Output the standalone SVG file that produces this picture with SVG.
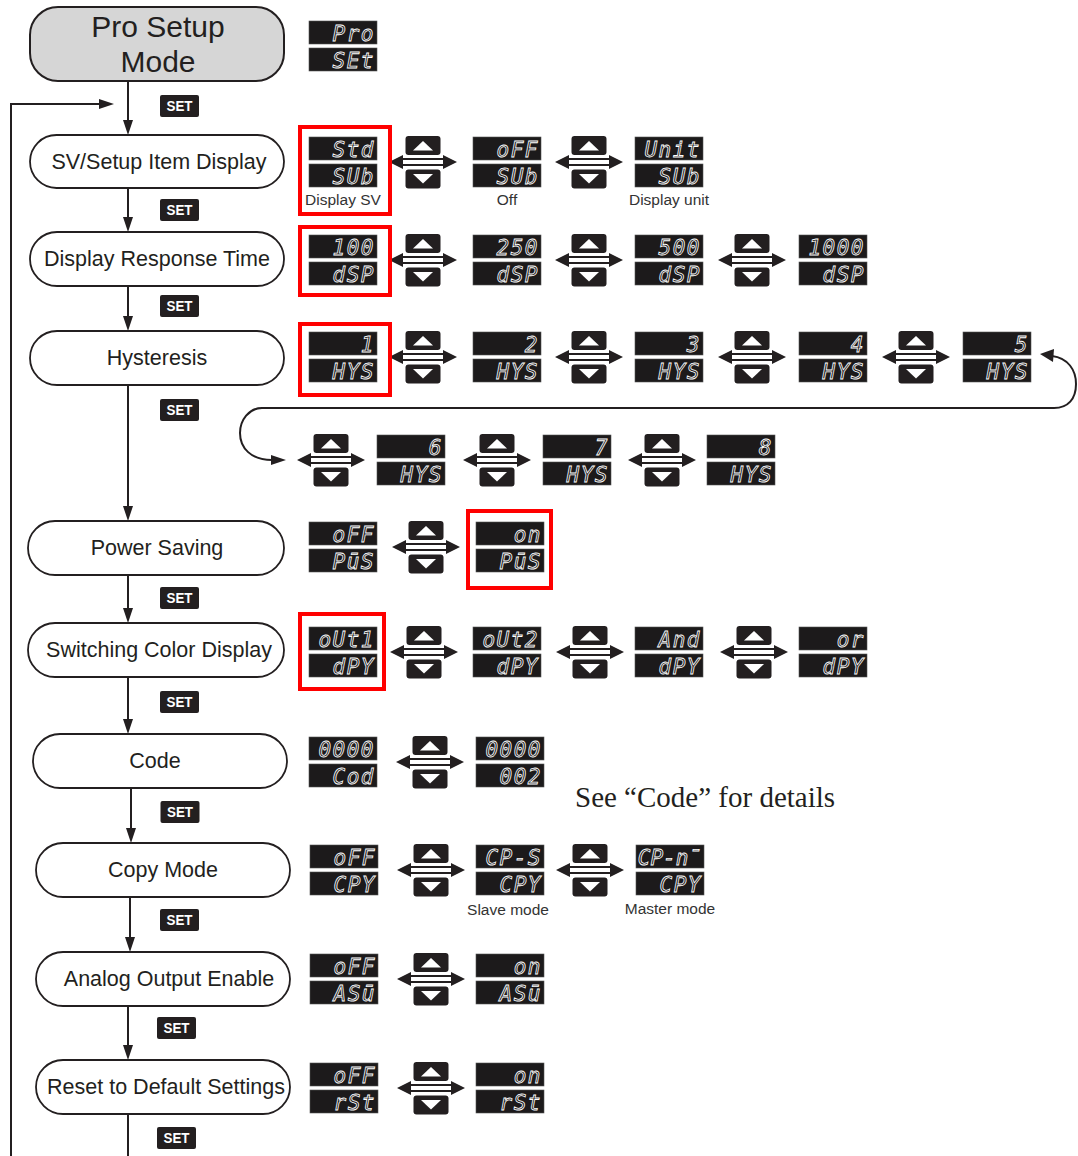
<svg xmlns="http://www.w3.org/2000/svg" xmlns:xlink="http://www.w3.org/1999/xlink" width="1078" height="1156" viewBox="0 0 1078 1156">
<style>
.node{fill:#fff;stroke:#231f20;stroke-width:1.8}
.pro{fill:#d6d6d6;stroke:#231f20;stroke-width:2}
.nt{font-family:"Liberation Sans",Arial,sans-serif;font-size:21.5px;fill:#231f20;text-anchor:middle}
.pt{font-family:"Liberation Sans",Arial,sans-serif;font-size:30px;fill:#231f20;text-anchor:middle}
.lcd rect{fill:#1c1a1b;stroke:#555;stroke-width:0.6}
.lcd text{font-family:"DejaVu Sans Mono","Liberation Mono",monospace;font-style:italic;font-size:21px;fill:none;stroke:#fff;stroke-width:0.8;text-anchor:end;letter-spacing:1.5px}
.lcd text.tight{letter-spacing:0px}
.cap{font-family:"Liberation Sans",Arial,sans-serif;font-size:15.5px;fill:#333;text-anchor:middle}
.red{fill:none;stroke:#f00;stroke-width:4}
.ln{fill:none;stroke:#231f20;stroke-width:2}
.ah{fill:#231f20}
.set rect{fill:#231f20}
.set text{font-family:"Liberation Sans",Arial,sans-serif;font-weight:bold;font-size:14px;fill:#fff;text-anchor:middle}
.note{font-family:"Liberation Serif","Times New Roman",serif;font-size:29px;fill:#231f20}
</style>
<defs>
<g id="ud">
<rect x="-17.5" y="-26" width="35" height="19" rx="3" fill="#231f20"/>
<rect x="-17.5" y="7.5" width="35" height="19" rx="3" fill="#231f20"/>
<polygon points="-10,-11.5 10,-11.5 0,-21" fill="#fff"/>
<polygon points="-10,12 10,12 0,21.5" fill="#fff"/>
<line x1="-22" y1="-3" x2="22" y2="-3" stroke="#231f20" stroke-width="2"/>
<line x1="-22" y1="3" x2="22" y2="3" stroke="#231f20" stroke-width="2"/>
<polygon points="-34,0 -20,-7 -20,7" fill="#231f20"/>
<polygon points="34,0 20,-7 20,7" fill="#231f20"/>
</g>
<g id="setb" class="set">
<rect x="-19.5" y="-11" width="39" height="22" rx="2"/>
<text x="0" y="5" textLength="26" lengthAdjust="spacingAndGlyphs">SET</text>
</g>
</defs>
<rect width="1078" height="1156" fill="#fff"/>

<g id="connectors">
<polyline class="ln" points="11,1156 11,104 100,104"/>
<polygon class="ah" points="114,104 99,99 99,109"/>
<line class="ln" x1="128" y1="81" x2="128" y2="122"/>
<polygon class="ah" points="128,135 123,120 133,120"/>
<line class="ln" x1="128" y1="188" x2="128" y2="219"/>
<polygon class="ah" points="128,232 123,217 133,217"/>
<line class="ln" x1="128" y1="286" x2="128" y2="318"/>
<polygon class="ah" points="128,331 123,316 133,316"/>
<line class="ln" x1="128" y1="385" x2="128" y2="508"/>
<polygon class="ah" points="128,521 123,506 133,506"/>
<line class="ln" x1="128" y1="575" x2="128" y2="610"/>
<polygon class="ah" points="128,623 123,608 133,608"/>
<line class="ln" x1="128" y1="677" x2="128" y2="721"/>
<polygon class="ah" points="128,734 123,719 133,719"/>
<line class="ln" x1="131" y1="788" x2="131" y2="830"/>
<polygon class="ah" points="131,843 126,828 136,828"/>
<line class="ln" x1="130" y1="897" x2="130" y2="939"/>
<polygon class="ah" points="130,952 125,937 135,937"/>
<line class="ln" x1="128" y1="1006" x2="128" y2="1047"/>
<polygon class="ah" points="128,1060 123,1045 133,1045"/>
<line class="ln" x1="128" y1="1114" x2="128" y2="1156"/>
<path class="ln" d="M1052,356 C1068,358 1076,370 1076,384 C1076,399 1068,408 1054,408 L262,408 C249,408 240,420 240,433 C240,448 251,460 272,460"/>
<polygon class="ah" points="1040,354 1054,349 1053,362"/>
<polygon class="ah" points="286,460 271,455 271,465"/>
</g>

<g id="set-badges">
<use xlink:href="#setb" x="179.5" y="106"/>
<use xlink:href="#setb" x="179.5" y="210"/>
<use xlink:href="#setb" x="179.5" y="306"/>
<use xlink:href="#setb" x="179.5" y="410"/>
<use xlink:href="#setb" x="179.5" y="598"/>
<use xlink:href="#setb" x="179.5" y="702"/>
<use xlink:href="#setb" x="180" y="812"/>
<use xlink:href="#setb" x="179.5" y="920"/>
<use xlink:href="#setb" x="176.5" y="1028"/>
<use xlink:href="#setb" x="176.5" y="1138"/>
</g>

<g id="node-pro">
<rect class="pro" x="30" y="7" width="254" height="74" rx="28"/>
<text class="pt" x="158" y="37">Pro Setup</text>
<text class="pt" x="158" y="72">Mode</text>
</g>
<g id="node-sv"><rect class="node" x="30" y="135" width="254" height="53" rx="26.5"/><text class="nt" x="159" y="169">SV/Setup Item Display</text></g>
<g id="node-drt"><rect class="node" x="30" y="232" width="254" height="54" rx="27"/><text class="nt" x="157" y="266">Display Response Time</text></g>
<g id="node-hys"><rect class="node" x="30" y="331" width="254" height="54" rx="27"/><text class="nt" x="157" y="365">Hysteresis</text></g>
<g id="node-pws"><rect class="node" x="28" y="521" width="256" height="54" rx="27"/><text class="nt" x="157" y="555">Power Saving</text></g>
<g id="node-scd"><rect class="node" x="28" y="623" width="256" height="54" rx="27"/><text class="nt" x="159" y="657">Switching Color Display</text></g>
<g id="node-code"><rect class="node" x="33" y="734" width="254" height="54" rx="27"/><text class="nt" x="155" y="768">Code</text></g>
<g id="node-copy"><rect class="node" x="36" y="843" width="254" height="54" rx="27"/><text class="nt" x="163" y="877">Copy Mode</text></g>
<g id="node-aoe"><rect class="node" x="36" y="952" width="254" height="54" rx="27"/><text class="nt" x="169" y="986">Analog Output Enable</text></g>
<g id="node-rst"><rect class="node" x="36" y="1060" width="254" height="54" rx="27"/><text class="nt" x="166" y="1094">Reset to Default Settings</text></g>

<g id="displays">
<g class="lcd" transform="translate(309,46)"><rect y="-25" width="68" height="23"/><rect y="2" width="68" height="23"/><text x="66" y="-5.5">Pro</text><text x="66" y="21.5">SEt</text></g>

<g class="lcd" transform="translate(309,162)"><rect y="-25" width="68" height="23"/><rect y="2" width="68" height="23"/><text x="66" y="-5.5">Std</text><text x="66" y="21.5">SUb</text></g>
<g class="lcd" transform="translate(473,162)"><rect y="-25" width="68" height="23"/><rect y="2" width="68" height="23"/><text x="66" y="-5.5">oFF</text><text x="66" y="21.5">SUb</text></g>
<g class="lcd" transform="translate(635,162)"><rect y="-25" width="68" height="23"/><rect y="2" width="68" height="23"/><text x="66" y="-5.5">Unit</text><text x="66" y="21.5">SUb</text></g>
<use xlink:href="#ud" x="423" y="162"/><use xlink:href="#ud" x="589" y="162"/>
<rect class="red" x="300" y="127" width="90" height="87"/>
<text class="cap" x="343" y="205">Display SV</text>
<text class="cap" x="507" y="205">Off</text>
<text class="cap" x="669" y="205">Display unit</text>

<g class="lcd" transform="translate(309,260)"><rect y="-25" width="68" height="23"/><rect y="2" width="68" height="23"/><text x="66" y="-5.5">100</text><text x="66" y="21.5">dSP</text></g>
<g class="lcd" transform="translate(473,260)"><rect y="-25" width="68" height="23"/><rect y="2" width="68" height="23"/><text x="66" y="-5.5">250</text><text x="66" y="21.5">dSP</text></g>
<g class="lcd" transform="translate(635,260)"><rect y="-25" width="68" height="23"/><rect y="2" width="68" height="23"/><text x="66" y="-5.5">500</text><text x="66" y="21.5">dSP</text></g>
<g class="lcd" transform="translate(799,260)"><rect y="-25" width="68" height="23"/><rect y="2" width="68" height="23"/><text x="66" y="-5.5">1000</text><text x="66" y="21.5">dSP</text></g>
<use xlink:href="#ud" x="423" y="260"/><use xlink:href="#ud" x="589" y="260"/><use xlink:href="#ud" x="752" y="260"/>
<rect class="red" x="300" y="227" width="90" height="68"/>

<g class="lcd" transform="translate(309,357)"><rect y="-25" width="68" height="23"/><rect y="2" width="68" height="23"/><text x="66" y="-5.5">1</text><text x="66" y="21.5">HYS</text></g>
<g class="lcd" transform="translate(473,357)"><rect y="-25" width="68" height="23"/><rect y="2" width="68" height="23"/><text x="66" y="-5.5">2</text><text x="66" y="21.5">HYS</text></g>
<g class="lcd" transform="translate(635,357)"><rect y="-25" width="68" height="23"/><rect y="2" width="68" height="23"/><text x="66" y="-5.5">3</text><text x="66" y="21.5">HYS</text></g>
<g class="lcd" transform="translate(799,357)"><rect y="-25" width="68" height="23"/><rect y="2" width="68" height="23"/><text x="66" y="-5.5">4</text><text x="66" y="21.5">HYS</text></g>
<g class="lcd" transform="translate(963,357)"><rect y="-25" width="68" height="23"/><rect y="2" width="68" height="23"/><text x="66" y="-5.5">5</text><text x="66" y="21.5">HYS</text></g>
<use xlink:href="#ud" x="423" y="357"/><use xlink:href="#ud" x="589" y="357"/><use xlink:href="#ud" x="752" y="357"/><use xlink:href="#ud" x="916" y="357"/>
<rect class="red" x="300" y="324" width="90" height="71"/>

<g class="lcd" transform="translate(377,460)"><rect y="-25" width="68" height="23"/><rect y="2" width="68" height="23"/><text x="66" y="-5.5">6</text><text x="66" y="21.5">HYS</text></g>
<g class="lcd" transform="translate(543,460)"><rect y="-25" width="68" height="23"/><rect y="2" width="68" height="23"/><text x="66" y="-5.5">7</text><text x="66" y="21.5">HYS</text></g>
<g class="lcd" transform="translate(707,460)"><rect y="-25" width="68" height="23"/><rect y="2" width="68" height="23"/><text x="66" y="-5.5">8</text><text x="66" y="21.5">HYS</text></g>
<use xlink:href="#ud" x="331" y="460"/><use xlink:href="#ud" x="497" y="460"/><use xlink:href="#ud" x="662" y="460"/>

<g class="lcd" transform="translate(309,547)"><rect y="-25" width="68" height="23"/><rect y="2" width="68" height="23"/><text x="66" y="-5.5">oFF</text><text x="66" y="21.5">PūS</text></g>
<g class="lcd" transform="translate(476,547)"><rect y="-25" width="68" height="23"/><rect y="2" width="68" height="23"/><text x="66" y="-5.5">on</text><text x="66" y="21.5">PūS</text></g>
<use xlink:href="#ud" x="426" y="547"/>
<rect class="red" x="468" y="511" width="83" height="77"/>

<g class="lcd" transform="translate(309,652)"><rect y="-25" width="68" height="23"/><rect y="2" width="68" height="23"/><text x="66" y="-5.5">oUt1</text><text x="66" y="21.5">dPY</text></g>
<g class="lcd" transform="translate(473,652)"><rect y="-25" width="68" height="23"/><rect y="2" width="68" height="23"/><text x="66" y="-5.5">oUt2</text><text x="66" y="21.5">dPY</text></g>
<g class="lcd" transform="translate(635,652)"><rect y="-25" width="68" height="23"/><rect y="2" width="68" height="23"/><text x="66" y="-5.5">And</text><text x="66" y="21.5">dPY</text></g>
<g class="lcd" transform="translate(799,652)"><rect y="-25" width="68" height="23"/><rect y="2" width="68" height="23"/><text x="66" y="-5.5">or</text><text x="66" y="21.5">dPY</text></g>
<use xlink:href="#ud" x="424" y="652"/><use xlink:href="#ud" x="590" y="652"/><use xlink:href="#ud" x="754" y="652"/>
<rect class="red" x="300" y="614" width="84" height="75"/>

<g class="lcd" transform="translate(309,762)"><rect y="-25" width="68" height="23"/><rect y="2" width="68" height="23"/><text x="66" y="-5.5">0000</text><text x="66" y="21.5">Cod</text></g>
<g class="lcd" transform="translate(476,762)"><rect y="-25" width="68" height="23"/><rect y="2" width="68" height="23"/><text x="66" y="-5.5">0000</text><text x="66" y="21.5">002</text></g>
<use xlink:href="#ud" x="430" y="762"/>
<text class="note" x="575" y="807">See “Code” for details</text>

<g class="lcd" transform="translate(310,870)"><rect y="-25" width="68" height="23"/><rect y="2" width="68" height="23"/><text x="66" y="-5.5">oFF</text><text x="66" y="21.5">CPY</text></g>
<g class="lcd" transform="translate(476,870)"><rect y="-25" width="68" height="23"/><rect y="2" width="68" height="23"/><text x="66" y="-5.5">CP-S</text><text x="66" y="21.5">CPY</text></g>
<g class="lcd" transform="translate(636,870)"><rect y="-25" width="68" height="23"/><rect y="2" width="68" height="23"/><text class="tight" x="65" y="-5.5">CP-n̄</text><text x="66" y="21.5">CPY</text></g>
<use xlink:href="#ud" x="431" y="870"/><use xlink:href="#ud" x="590" y="870"/>
<text class="cap" x="508" y="915">Slave mode</text>
<text class="cap" x="670" y="914">Master mode</text>

<g class="lcd" transform="translate(310,979)"><rect y="-25" width="68" height="23"/><rect y="2" width="68" height="23"/><text x="66" y="-5.5">oFF</text><text x="66" y="21.5">ASū</text></g>
<g class="lcd" transform="translate(476,979)"><rect y="-25" width="68" height="23"/><rect y="2" width="68" height="23"/><text x="66" y="-5.5">on</text><text x="66" y="21.5">ASū</text></g>
<use xlink:href="#ud" x="431" y="979"/>

<g class="lcd" transform="translate(310,1088)"><rect y="-25" width="68" height="23"/><rect y="2" width="68" height="23"/><text x="66" y="-5.5">oFF</text><text x="66" y="21.5">rSt</text></g>
<g class="lcd" transform="translate(476,1088)"><rect y="-25" width="68" height="23"/><rect y="2" width="68" height="23"/><text x="66" y="-5.5">on</text><text x="66" y="21.5">rSt</text></g>
<use xlink:href="#ud" x="431" y="1088"/>
</g>
</svg>
